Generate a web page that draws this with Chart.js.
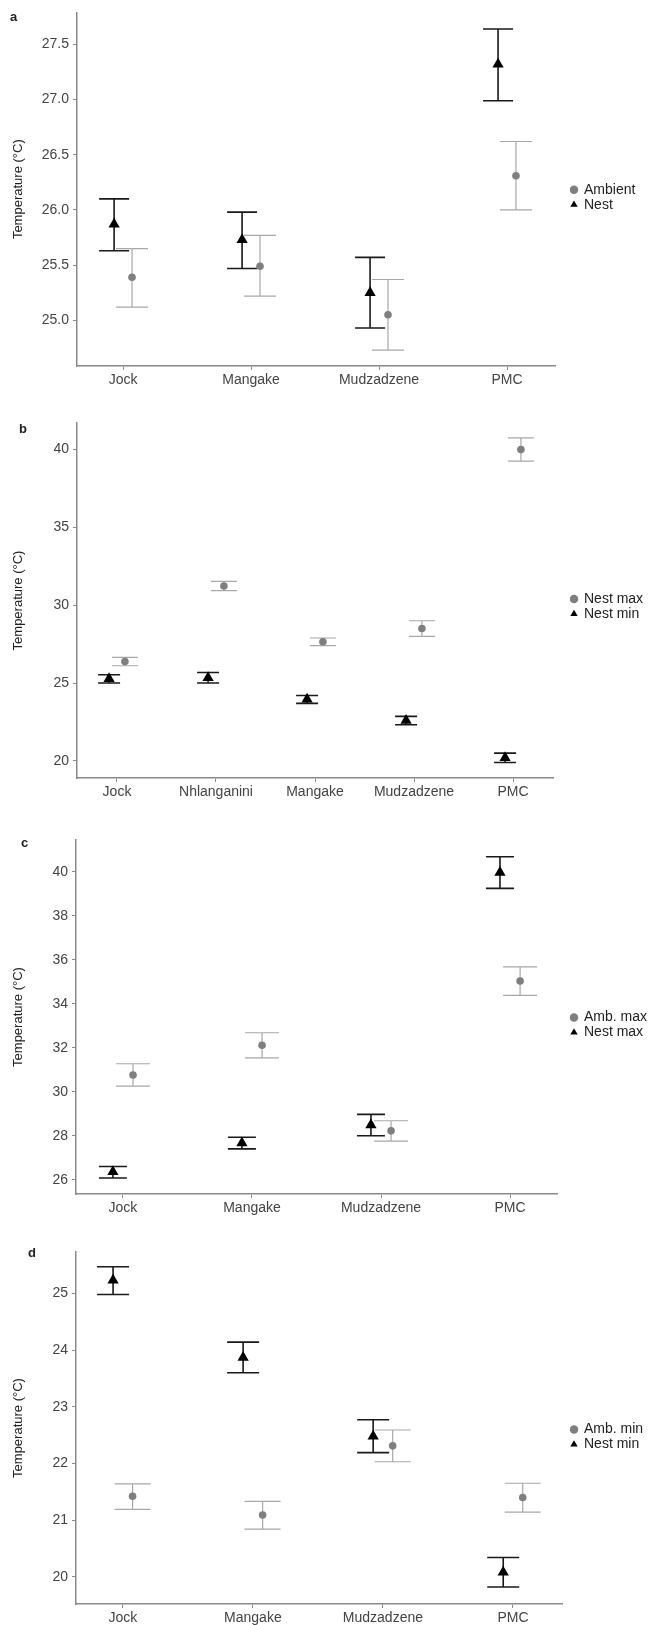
<!DOCTYPE html>
<html>
<head>
<meta charset="utf-8">
<script src="https://cdn.jsdelivr.net/npm/chart.js@4.4.1/dist/chart.umd.min.js"></script>
<style>
  html, body { margin: 0; padding: 0; background: #fff; width: 653px; height: 1625px; overflow: hidden; }
  body { position: relative; font-family: "Liberation Sans", Arial, sans-serif; }
  .panel { position: absolute; left: 0; width: 653px; overflow: hidden; }
  .panel canvas { display: block; }
  .tag { position: absolute; font-weight: bold; font-size: 13px; color: #222; line-height: 1; }
</style>
</head>
<body>
<div class="panel" style="top:0;height:400px"><canvas id="chartA" width="653" height="400"></canvas></div>
<div class="panel" style="top:400px;height:405px"><canvas id="chartB" width="653" height="405"></canvas></div>
<div class="panel" style="top:805px;height:410px"><canvas id="chartC" width="653" height="410"></canvas></div>
<div class="panel" style="top:1215px;height:410px"><canvas id="chartD" width="653" height="410"></canvas></div>
<div class="tag" style="left:10px;top:10px">a</div>
<div class="tag" style="left:19px;top:422px">b</div>
<div class="tag" style="left:21px;top:836px">c</div>
<div class="tag" style="left:28px;top:1246px">d</div>
<script>
// panel a: mean temperature
const sitesA = ['Jock', 'Mangake', 'Mudzadzene', 'PMC'];
const aAmbientMean = [25.39, 25.49, 25.05, 26.31];
const aAmbientLow  = [25.12, 25.22, 24.73, 26.00];
const aAmbientHigh = [25.65, 25.77, 25.37, 26.62];
const aNestMean = [25.87, 25.73, 25.25, 27.32];
const aNestLow  = [25.63, 25.47, 24.93, 26.99];
const aNestHigh = [26.10, 25.98, 25.57, 27.64];
const aTicks = [25.0, 25.5, 26.0, 26.5, 27.0, 27.5];

// panel b: nest max / min
const sitesB = ['Jock', 'Nhlanganini', 'Mangake', 'Mudzadzene', 'PMC'];
const bNestMaxMean = [26.38, 31.23, 27.65, 28.50, 40.00];
const bNestMaxLow  = [26.11, 30.93, 27.40, 27.99, 39.25];
const bNestMaxHigh = [26.65, 31.53, 27.89, 29.00, 40.75];
const bNestMinMean = [25.27, 25.34, 23.95, 22.59, 20.20];
const bNestMinLow  = [25.00, 25.00, 23.69, 22.32, 19.90];
const bNestMinHigh = [25.53, 25.68, 24.20, 22.86, 20.50];
const bTicks = [20, 25, 30, 35, 40];

// panel c: ambient max / nest max
const sitesC = ['Jock', 'Mangake', 'Mudzadzene', 'PMC'];
const cAmbMaxMean = [30.76, 32.11, 28.22, 35.03];
const cAmbMaxLow  = [30.25, 31.54, 27.75, 34.38];
const cAmbMaxHigh = [31.27, 32.68, 28.68, 35.67];
const cNestMaxMean = [26.36, 27.67, 28.49, 39.96];
const cNestMaxLow  = [26.08, 27.40, 28.00, 39.24];
const cNestMaxHigh = [26.60, 27.93, 28.97, 40.68];
const cTicks = [26, 28, 30, 32, 34, 36, 38, 40];

// panel d: ambient min / nest min
const sitesD = ['Jock', 'Mangake', 'Mudzadzene', 'PMC'];
const dAmbMinMean = [21.42, 21.09, 22.31, 21.40];
const dAmbMinLow  = [21.19, 20.84, 22.03, 21.14];
const dAmbMinHigh = [21.64, 21.33, 22.59, 21.65];
const dNestMinMean = [25.23, 23.87, 22.48, 20.08];
const dNestMinLow  = [24.98, 23.60, 22.19, 19.82];
const dNestMinHigh = [25.47, 24.14, 22.77, 20.34];
const dTicks = [20, 21, 22, 23, 24, 25];

const GREY_PT = '#7f7f7f', GREY_BAR = '#a8a8a8', BLACK = '#000000';
const AXIS = '#8a8a8a', TEXT = '#444444';

// vertical error bars with caps, drawn through the chart scales
const errorBars = {
  id: 'errorBars',
  beforeDatasetsDraw(chart) {
    const { ctx, scales: { x, y } } = chart;
    chart.data.datasets.forEach(ds => {
      ctx.save();
      ctx.strokeStyle = ds.errColor;
      ctx.lineWidth = ds.errWidth;
      ds.data.forEach((p, i) => {
        const px = x.getPixelForValue(p.x);
        const lo = y.getPixelForValue(ds.low[i]);
        const hi = y.getPixelForValue(ds.high[i]);
        ctx.beginPath();
        ctx.moveTo(px, lo); ctx.lineTo(px, hi);
        ctx.moveTo(px - ds.cap, lo); ctx.lineTo(px + ds.cap, lo);
        ctx.moveTo(px - ds.cap, hi); ctx.lineTo(px + ds.cap, hi);
        ctx.stroke();
      });
      ctx.restore();
    });
  }
};

// fixes the legend box width and nudges it next to the panel
const legendPlace = {
  id: 'legendPlace',
  beforeLayout(chart, args, opts) {
    const lg = chart.legend;
    if (lg && !lg._fixed) {
      const fit = lg.fit.bind(lg);
      lg.fit = function () { fit(); this.width = opts.width; };
      lg._fixed = true;
    }
  },
  afterLayout(chart, args, opts) {
    const lg = chart.legend;
    lg.left += opts.dx; lg.right += opts.dx;
    lg.top += opts.dy; lg.bottom += opts.dy;
  }
};

function series(label, sites, mean, low, high, shift, style) {
  return {
    label: label,
    data: sites.map((s, i) => ({ x: i + shift, y: mean[i] })),
    low: low,
    high: high,
    pointStyle: style.shape,
    pointRadius: style.r,
    pointHoverRadius: style.r,
    backgroundColor: style.color,
    borderColor: style.color,
    borderWidth: 0,
    errColor: style.bar,
    errWidth: style.barW,
    cap: style.cap,
    showLine: false
  };
}

function makePanel(p) {
  new Chart(document.getElementById(p.id), {
    type: 'scatter',
    data: { datasets: p.datasets },
    options: {
      responsive: false,
      devicePixelRatio: 1,
      animation: false,
      events: [],
      layout: { padding: { top: p.top, left: 0, right: 0, bottom: 0 } },
      scales: {
        x: {
          type: 'linear', min: p.xMin, max: p.xMax,
          afterBuildTicks: s => { s.ticks = p.sites.map((c, i) => ({ value: i })); },
          afterFit: s => { s.height = p.xH; },
          ticks: { callback: v => p.sites[v], color: TEXT, font: { size: 14, family: 'Liberation Sans' }, padding: 2, maxRotation: 0, autoSkip: false },
          grid: { display: true, drawOnChartArea: false, drawTicks: true, tickLength: 4, color: AXIS },
          border: { color: AXIS, width: 1.5 }
        },
        y: {
          min: p.yMin, max: p.yMax,
          afterBuildTicks: s => { s.ticks = p.ticks.map(v => ({ value: v })); },
          afterFit: s => { s.width = p.yW; },
          ticks: { callback: v => p.fmt(v), color: TEXT, font: { size: 14, family: 'Liberation Sans' }, padding: 4 },
          grid: { display: true, drawOnChartArea: false, drawTicks: true, tickLength: 4, color: AXIS },
          border: { color: AXIS, width: 1.5 },
          title: { display: true, text: 'Temperature (°C)', color: '#222', font: { size: 13, family: 'Liberation Sans' }, padding: { top: 11, bottom: 0 } }
        }
      },
      plugins: {
        tooltip: { enabled: false },
        legend: {
          position: 'right', fullSize: false,
          labels: { usePointStyle: true, boxWidth: 6, boxHeight: 6, padding: 1, color: '#222', font: { size: 14, family: 'Liberation Sans' } }
        },
        legendPlace: { width: 653 - p.right, dx: 570 - p.right, dy: p.dy }
      }
    },
    plugins: [errorBars, legendPlace]
  });
}

const grey = cap => ({ shape: 'circle', r: 3.8, color: GREY_PT, bar: GREY_BAR, barW: 1.2, cap: cap });
const black = cap => ({ shape: 'triangle', r: 6.5, color: BLACK, bar: '#1a1a1a', barW: 1.6, cap: cap });
const one = v => v.toFixed(1);
const whole = v => String(v);

makePanel({
  id: 'chartA', sites: sitesA, top: 10, xH: 34, yW: 77, right: 555, dy: 8,
  xMin: -0.36, xMax: 3.375, yMin: 24.586, yMax: 27.79, ticks: aTicks, fmt: one,
  datasets: [
    series('Ambient', sitesA, aAmbientMean, aAmbientLow, aAmbientHigh, 0.07, grey(16)),
    series('Nest', sitesA, aNestMean, aNestLow, aNestHigh, -0.07, black(15))
  ]
});

makePanel({
  id: 'chartB', sites: sitesB, top: 23, xH: 27, yW: 77, right: 553, dy: 6,
  xMin: -0.404, xMax: 4.404, yMin: 18.9, yMax: 41.7, ticks: bTicks, fmt: whole,
  datasets: [
    series('Nest max', sitesB, bNestMaxMean, bNestMaxLow, bNestMaxHigh, 0.08, grey(13)),
    series('Nest min', sitesB, bNestMinMean, bNestMinLow, bNestMinHigh, -0.08, black(11))
  ]
});

makePanel({
  id: 'chartC', sites: sitesC, top: 35, xH: 21, yW: 76, right: 557, dy: 8,
  xMin: -0.364, xMax: 3.364, yMin: 25.35, yMax: 41.44, ticks: cTicks, fmt: whole,
  datasets: [
    series('Amb. max', sitesC, cAmbMaxMean, cAmbMaxLow, cAmbMaxHigh, 0.078, grey(17)),
    series('Nest max', sitesC, cNestMaxMean, cNestMaxLow, cNestMaxHigh, -0.078, black(14))
  ]
});

makePanel({
  id: 'chartD', sites: sitesD, top: 37, xH: 21, yW: 76, right: 562, dy: 9,
  xMin: -0.36, xMax: 3.377, yMin: 19.52, yMax: 25.73, ticks: dTicks, fmt: whole,
  datasets: [
    series('Amb. min', sitesD, dAmbMinMean, dAmbMinLow, dAmbMinHigh, 0.075, grey(18)),
    series('Nest min', sitesD, dNestMinMean, dNestMinLow, dNestMinHigh, -0.075, black(16))
  ]
});
</script>
</body>
</html>
